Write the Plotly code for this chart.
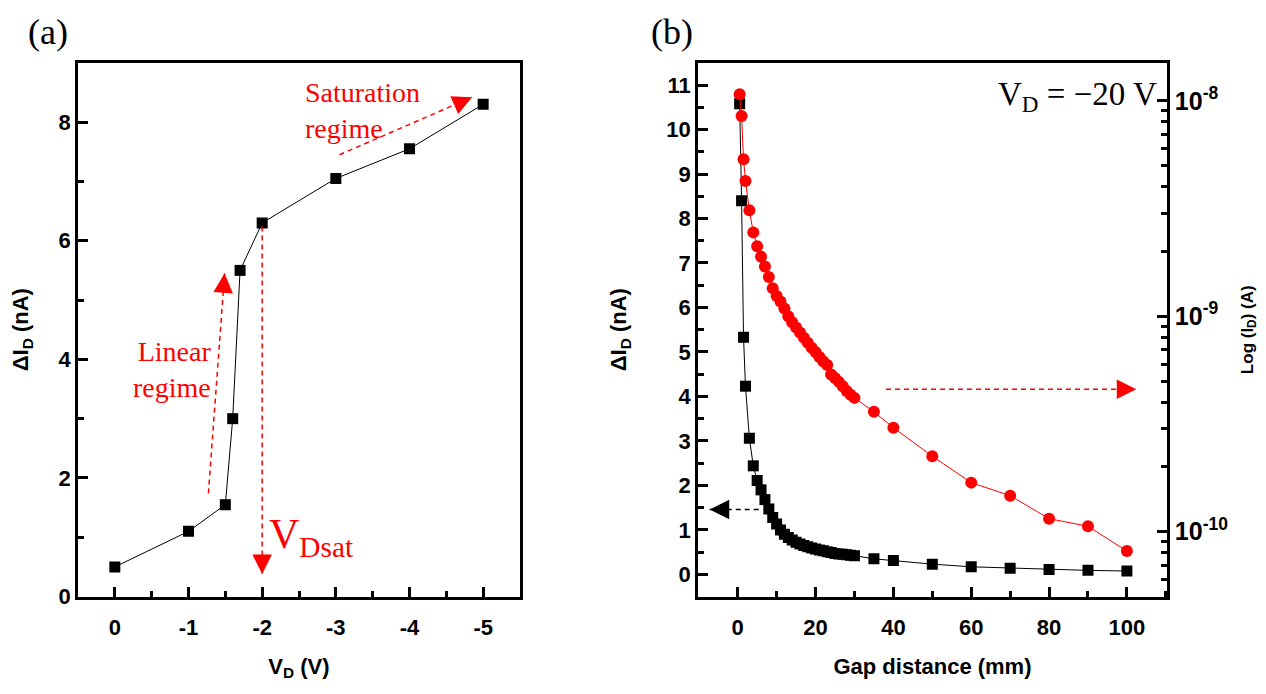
import math
import plotly.graph_objects as go

# ---------------- data ----------------
# Panel (a)
vd = [0, -1, -1.5, -1.6, -1.7, -2, -3, -4, -5]
dId_a = [0.50, 1.10, 1.55, 3.00, 5.50, 6.30, 7.05, 7.55, 8.30]
vd_ticks = [0, -1, -2, -3, -4, -5]
vd_ticktext = ["0", "-1", "-2", "-3", "-4", "-5"]

# Panel (b)
gap = [0.5, 1, 1.5, 2, 3, 4, 5, 6, 7, 8, 9, 10, 11, 12, 13, 14, 15, 16, 17, 18,
       19, 20, 21, 22, 23, 24, 25, 26, 27, 28, 29, 30, 35, 40, 50, 60, 70, 80, 90, 100]
dId_b = [10.58, 8.40, 5.33, 4.23, 3.06, 2.44, 2.11, 1.90, 1.68, 1.47, 1.28, 1.13,
         1.00, 0.90, 0.83, 0.77, 0.72, 0.68, 0.65, 0.62, 0.59, 0.57, 0.55, 0.53,
         0.51, 0.49, 0.47, 0.46, 0.45, 0.44, 0.43, 0.42, 0.35, 0.31, 0.23, 0.17,
         0.14, 0.11, 0.09, 0.075]
Id_b = [1.072e-8, 8.49e-9, 5.35e-9, 4.24e-9, 3.10e-9, 2.45e-9, 2.11e-9, 1.89e-9,
        1.70e-9, 1.52e-9, 1.35e-9, 1.24e-9, 1.17e-9, 1.087e-9, 1.00e-9, 9.38e-10,
        8.86e-10, 8.41e-10, 7.94e-10, 7.53e-10, 7.15e-10, 6.82e-10, 6.47e-10,
        6.17e-10, 5.94e-10, 5.37e-10, 5.17e-10, 4.96e-10, 4.73e-10, 4.50e-10,
        4.32e-10, 4.18e-10, 3.60e-10, 3.04e-10, 2.24e-10, 1.69e-10, 1.47e-10,
        1.15e-10, 1.06e-10, 8.13e-11]
log_ticks = [1e-10, 1e-9, 1e-8]
log_ticktext = ["10<sup>-10</sup>", "10<sup>-9</sup>", "10<sup>-8</sup>"]
log_minor = [m * 10.0 ** e for e in (-11, -10, -9, -8) for m in range(2, 10)]

# ---------------- layout constants ----------------
W, H = 1266, 694
RED = "#ff0000"
SANS = "Liberation Sans, Arial, sans-serif"
SERIF = "Liberation Serif, Times New Roman, serif"

xa_dom = [78 / W, 520 / W]
xb_dom = [698 / W, 1167 / W]
y_dom = [1 - 608 / H, 1 - 64 / H]

xa_range = [0.5, -5.5]
ya_range = [0, 9]
xb_range = [-10.2, 110.3]
yb_range = [-0.5, 11.5]
y3_range = [math.log10(5e-11), math.log10(1.5e-8)]

tickfont = dict(family=SANS, size=22, color="black", weight="bold")
titlefont = dict(family=SANS, size=22, color="black", weight="bold")
MINOR = dict(ticks="inside", ticklen=6, tickwidth=2.5, tickcolor="black")

def axis_common():
    return dict(showline=True, linewidth=2.7, linecolor="black", mirror=True,
                ticks="inside", ticklen=10, tickwidth=2.5, tickcolor="black",
                showgrid=False, zeroline=False, tickfont=tickfont)

fig = go.Figure()

fig.add_trace(go.Scatter(x=vd, y=dId_a, mode="lines+markers", xaxis="x", yaxis="y",
                         line=dict(color="black", width=1),
                         marker=dict(symbol="square", size=11, color="black"),
                         showlegend=False))
fig.add_trace(go.Scatter(x=gap, y=dId_b, mode="lines+markers", xaxis="x2", yaxis="y2",
                         line=dict(color="black", width=1),
                         marker=dict(symbol="square", size=11, color="black"),
                         showlegend=False))
fig.add_trace(go.Scatter(x=gap, y=Id_b, mode="lines+markers", xaxis="x2", yaxis="y3",
                         line=dict(color=RED, width=1),
                         marker=dict(symbol="circle", size=12, color=RED),
                         showlegend=False))

fig.update_layout(
    width=W, height=H, margin=dict(l=0, r=0, t=0, b=0),
    paper_bgcolor="white", plot_bgcolor="white",
    xaxis=dict(domain=xa_dom, anchor="y", range=xa_range, tickvals=vd_ticks,
               ticktext=vd_ticktext, ticklabelstandoff=9,
               minor=dict(dtick=0.5, tick0=0, **MINOR),
               title=dict(text="V<sub>D</sub> (V)", font=titlefont, standoff=20),
               **axis_common()),
    yaxis=dict(domain=y_dom, anchor="x", range=ya_range, dtick=2, tick0=0,
               minor=dict(dtick=1, tick0=0, **MINOR),
               title=dict(text="ΔI<sub>D</sub> (nA)", font=titlefont, standoff=24),
               **axis_common()),
    xaxis2=dict(domain=xb_dom, anchor="y2", range=xb_range, dtick=20, tick0=0,
                ticklabelstandoff=9,
                minor=dict(dtick=10, tick0=0, **MINOR),
                title=dict(text="Gap distance (mm)", font=titlefont, standoff=20),
                **axis_common()),
    yaxis2=dict(domain=y_dom, anchor="x2", range=yb_range, dtick=1, tick0=0,
                minor=dict(dtick=0.5, tick0=0, **MINOR),
                title=dict(text="ΔI<sub>D</sub> (nA)", font=titlefont, standoff=34),
                **axis_common()),
    yaxis3=dict(overlaying="y2", anchor="x2", side="right", type="log", range=y3_range,
                tickvals=log_ticks, ticktext=log_ticktext,
                showline=True, linewidth=2.7, linecolor="black",
                ticks="inside", ticklen=10, tickwidth=2.5, tickcolor="black",
                minor=dict(tickvals=log_minor, **MINOR),
                showgrid=False, zeroline=False,
                tickfont=dict(family=SANS, size=25, color="black", weight="bold"),
                title=dict(text="Log (I<sub>D</sub>) (A)",
                           font=dict(family=SANS, size=17, color="black", weight="bold"),
                           standoff=14)),
)

# ---------- helpers for arrows ----------
def px_scale(dom, rng, total):
    return (dom[1] - dom[0]) * total / (rng[1] - rng[0])

def add_arrow(xref, yref, x0, y0, x1, y1, sx, sy, color, head=15):
    fig.add_shape(type="line", xref=xref, yref=yref, x0=x0, y0=y0, x1=x1, y1=y1,
                  line=dict(color=color, width=1.5, dash="5px,4px"))
    dxp = (x1 - x0) * sx
    dyp = -(y1 - y0) * sy
    L = math.hypot(dxp, dyp)
    ux, uy = dxp / L, dyp / L
    fig.add_annotation(xref=xref, yref=yref, x=x1, y=y1, ax=-ux * head, ay=-uy * head,
                       axref="pixel", ayref="pixel", text="", showarrow=True,
                       arrowhead=2, arrowsize=2.6, arrowwidth=1.5, arrowcolor=color,
                       standoff=0)

sxa = px_scale(xa_dom, xa_range, W)
sya = px_scale(y_dom, ya_range, H)
sxb = px_scale(xb_dom, xb_range, W)
syb = px_scale(y_dom, yb_range, H)

# panel (a) arrows
add_arrow("x", "y", -3.05, 7.45, -4.85, 8.42, sxa, sya, RED)
add_arrow("x", "y", -1.27, 1.74, -1.49, 5.45, sxa, sya, RED)
add_arrow("x", "y", -2.0, 6.24, -2.0, 0.38, sxa, sya, RED)
# panel (b) arrows
add_arrow("x2", "y2", 5.4, 1.46, -7.2, 1.46, sxb, syb, "black")
add_arrow("x2", "y2", 38.1, 4.16, 102.4, 4.16, sxb, syb, RED)

# ---------- text annotations ----------
fig.add_annotation(xref="paper", yref="paper", x=48 / W, y=1 - 33 / H, text="(a)",
                   xanchor="center", yanchor="middle",
                   showarrow=False, font=dict(family=SERIF, size=36, color="black"))
fig.add_annotation(xref="paper", yref="paper", x=672 / W, y=1 - 33 / H, text="(b)",
                   xanchor="center", yanchor="middle",
                   showarrow=False, font=dict(family=SERIF, size=36, color="black"))
fig.add_annotation(xref="x", yref="y", x=-2.55, y=8.2, xanchor="left", align="left",
                   text="Saturation<br>regime", showarrow=False,
                   font=dict(family=SERIF, size=28, color=RED))
fig.add_annotation(xref="x", yref="y", x=-1.33, y=3.83, xanchor="right", align="right",
                   text="Linear<br>regime", showarrow=False,
                   font=dict(family=SERIF, size=28, color=RED))
fig.add_annotation(xref="x", yref="y", x=-2.06, y=1.0, xanchor="left",
                   text="V<sub>Dsat</sub>", showarrow=False,
                   font=dict(family=SERIF, size=42, color=RED))
fig.add_annotation(xref="x2", yref="y2", x=108.2, y=10.75, xanchor="right",
                   text="V<sub>D</sub> = −20 V", showarrow=False,
                   font=dict(family=SERIF, size=33, color="black"))

fig.write_html("out.html")
